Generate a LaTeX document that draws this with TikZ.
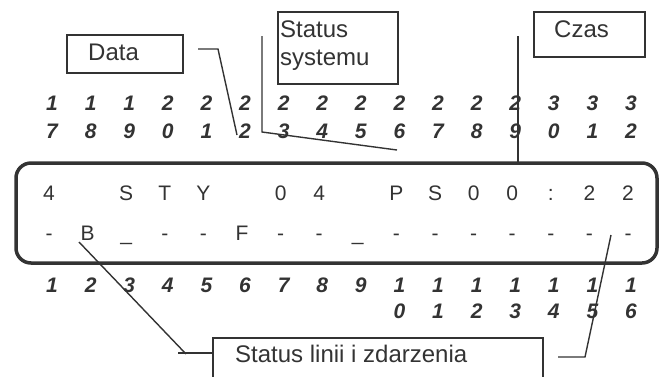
\documentclass[tikz,border=0pt]{standalone}
\usepackage{fontspec}
\setmainfont{Liberation Sans}
\definecolor{inkc}{HTML}{333333}
\begin{document}
\begin{tikzpicture}[x=1pt,y=-1pt,
  lead/.style={draw=inkc, line width=1.4pt},
  lblbox/.style={draw=inkc, line width=1.5pt, inner sep=0pt},
  lbltxt/.style={font=\fontsize{24}{28}\selectfont, text=inkc, anchor=base west, inner sep=0pt},
  num/.style={font=\fontsize{21}{24}\selectfont\bfseries\itshape, text=inkc, anchor=base, inner sep=0pt},
  disp/.style={font=\fontsize{21}{24}\selectfont, text=inkc, anchor=base, inner sep=0pt}]
\useasboundingbox (0,0) rectangle (661,376);

% main display
\draw[draw=inkc, line width=3.5pt, rounded corners=15pt] (16,163) rectangle (657,263);

% top column numbers 17..32
\foreach \i [count=\k from 0] in {17,...,32} {
  \pgfmathtruncatemacro{\a}{\i/10}
  \pgfmathtruncatemacro{\b}{mod(\i,10)}
  \node[num] (t\i a) at (52+38.6*\k,110) {\a};
  \node[num] (t\i b) at (52+38.6*\k,138) {\b};
}
% bottom column numbers 1..16
\foreach \i [count=\k from 0] in {1,...,9} {
  \node[num] (b\i) at (52+38.6*\k,292) {\i};
}
\foreach \i [count=\k from 9] in {10,...,16} {
  \pgfmathtruncatemacro{\b}{mod(\i,10)}
  \node[num] (b\i a) at (52+38.6*\k,292) {1};
  \node[num] (b\i b) at (52+38.6*\k,318) {\b};
}

% display row 1
\foreach \c/\k in {4/0,S/2,T/3,Y/4,0/6,4/7,P/9,S/10,0/11,0/12,:/13,2/14,2/15} {
  \node[disp] (ra\k) at (49+38.6*\k,200) {\c};
}
% display row 2
\foreach \c/\k in {-/0,B/1,\_/2,-/3,-/4,F/5,-/6,-/7,\_/8,-/9,-/10,-/11,-/12,-/13,-/14,-/15} {
  \node[disp] (rb\k) at (49+38.6*\k,240) {\c};
}

% label boxes
\node[lblbox, minimum width=116pt, minimum height=38pt] (data) at (125,54) {};
\node[lbltxt] (datat) at (88,60) {Data};
\node[lblbox, minimum width=120pt, minimum height=72pt] (sys) at (338,48) {};
\node[lbltxt] (syst1) at (280,37) {Status};
\node[lbltxt] (syst2) at (280,65) {systemu};
\node[lblbox, minimum width=111pt, minimum height=45pt] (czas) at (589.5,34.5) {};
\node[lbltxt] (czast) at (554,37) {Czas};
\node[lblbox, minimum width=330pt, minimum height=60pt] (lin) at (378,368) {};
\node[lbltxt] (lint) at (235,362) {Status linii i zdarzenia};

% leaders
\coordinate (d0) at (198,49);
\coordinate (d1) at (218,49);
\coordinate (d2) at (237,135);
\draw[lead] (d0) -- (d1) -- (d2);
\coordinate (s0) at (262,36);
\coordinate (s1) at (262,132);
\coordinate (s2) at (397,150);
\draw[lead] (s0) -- (s1) -- (s2);
\coordinate (c0) at (518,36);
\coordinate (c1) at (518,163);
\draw[lead] (c0) -- (c1);
\coordinate (l0) at (79,242);
\coordinate (l1) at (186,354);
\coordinate (l2) at (178,353);
\draw[lead] (l0) -- (l1);
\draw[lead] (l2) -- (lin.west |- l2);
\coordinate (r0) at (558,357);
\coordinate (r1) at (585,357);
\coordinate (r2) at (611,235);
\draw[lead] (r0) -- (r1) -- (r2);
\end{tikzpicture}
\end{document}
